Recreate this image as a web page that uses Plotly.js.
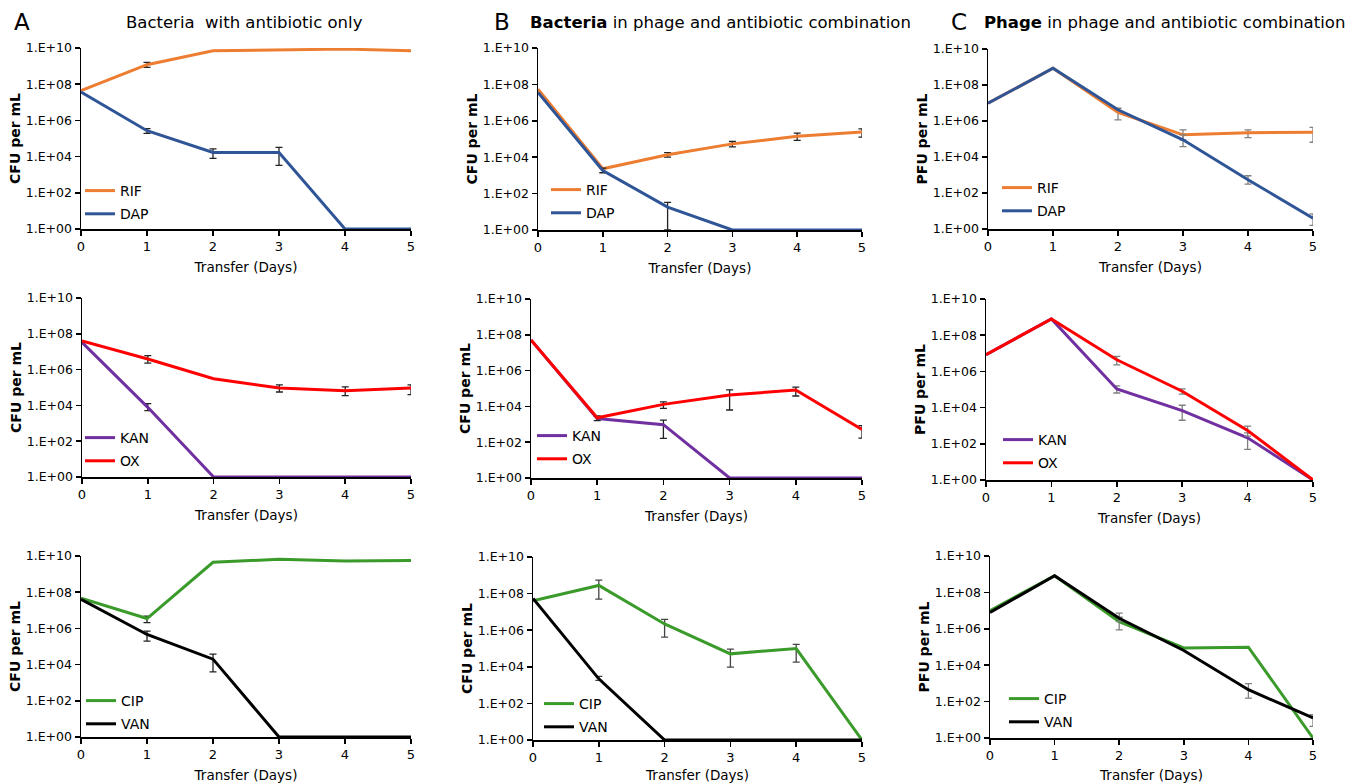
<!DOCTYPE html>
<html><head><meta charset="utf-8">
<script src="https://cdn.plot.ly/plotly-3.0.1.min.js"></script>
<style>html,body{margin:0;padding:0;background:#fff}#chart{width:1360px;height:783px}</style>
</head><body><div id="chart"></div>
<script>
const days = [0,1,2,3,4,5];
const tickVals = [1,1e2,1e4,1e6,1e8,1e10];
const tickText = ['1.E+00','1.E+02','1.E+04','1.E+06','1.E+08','1.E+10'];
const dayTicks = ['0','1','2','3','4','5'];
const xTitle = 'Transfer (Days)';

// Column A: bacteria with antibiotic only
const A_RIF    = [4.4e7, 1.2e9, 7e9, 7.8e9, 8.7e9, 7e9];
const A_RIF_hi = [null, 1.6e9, null, null, null, null];
const A_RIF_lo = [null, 8.5e8, null, null, null, null];
const A_DAP    = [3.7e7, 2.7e5, 1.7e4, 1.7e4, 1, 1];
const A_DAP_hi = [null, 3.5e5, 2.7e4, 3.2e4, null, null];
const A_DAP_lo = [null, 1.9e5, 8e3, 3.3e3, null, null];
const A_KAN    = [3.3e7, 7.8e3, 1, 1, 1, 1];
const A_KAN_hi = [null, 1.26e4, null, null, null, null];
const A_KAN_lo = [null, 5.1e3, null, null, null, null];
const A_OX     = [4e7, 3.9e6, 3.1e5, 9.4e4, 6.6e4, 9.4e4];
const A_OX_hi  = [null, 6e6, null, 1.4e5, 1.07e5, 1.4e5];
const A_OX_lo  = [null, 2.3e6, null, 5.6e4, 3.5e4, 4e4];
const A_CIP    = [4.6e7, 3.5e6, 4.5e9, 6.6e9, 5.3e9, 5.7e9];
const A_CIP_hi = [null, 4.8e6, null, null, null, null];
const A_CIP_lo = [null, 2.1e6, null, null, null, null];
const A_VAN    = [4e7, 4.6e5, 2e4, 1, 1, 1];
const A_VAN_hi = [null, 7e5, 3.8e4, null, null, null];
const A_VAN_lo = [null, 2e5, 4e3, null, null, null];

// Column B: bacteria in phage and antibiotic combination
const B_RIF    = [5.5e7, 2.3e3, 1.35e4, 5.4e4, 1.4e5, 2.4e5];
const B_RIF_hi = [null, null, 1.8e4, 7.3e4, 2.1e5, 3.6e5];
const B_RIF_lo = [null, null, 1e4, 3.7e4, 8.3e4, 1.26e5];
const B_DAP    = [3.6e7, 1.85e3, 18, 1, 1, 1];
const B_DAP_hi = [null, 2.5e3, 33, null, null, null];
const B_DAP_lo = [null, 1.4e3, 1, null, null, null];
const B_KAN    = [5.1e7, 2.1e3, 950, 1, 1, 1];
const B_KAN_hi = [null, null, 1.7e3, null, null, null];
const B_KAN_lo = [null, null, 165, null, null, null];
const B_OX     = [5.1e7, 2.3e3, 1.3e4, 4.3e4, 8.2e4, 520];
const B_OX_hi  = [null, 2.9e3, 1.8e4, 8.3e4, 1.2e5, 840];
const B_OX_lo  = [null, 1.6e3, 7.8e3, 6.3e3, 3.8e4, 170];
const B_CIP    = [4.1e7, 2.8e8, 2.2e6, 5.1e4, 1e5, 1];
const B_CIP_hi = [null, 5.4e8, 3.9e6, 9.2e4, 1.7e5, null];
const B_CIP_lo = [null, 5e7, 4.2e5, 9.7e3, 1.8e4, null];
const B_VAN    = [5.4e7, 2.2e3, 1, 1, 1, 1];
const B_VAN_hi = [null, 3e3, null, null, null, null];
const B_VAN_lo = [null, 1.8e3, null, null, null, null];

// Column C: phage in phage and antibiotic combination
const C_RIF    = [9.7e6, 8.5e8, 3e6, 1.7e5, 2.2e5, 2.4e5];
const C_RIF_hi = [null, null, 5.1e6, 3.2e5, 3.2e5, 4.4e5];
const C_RIF_lo = [null, null, 1.15e6, 9e4, 1.2e5, 6.6e4];
const C_DAP    = [9.7e6, 8.5e8, 4.2e6, 9e4, 550, 4];
const C_DAP_hi = [null, null, null, 1.7e5, 910, 7];
const C_DAP_lo = [null, null, null, 3.8e4, 315, 1.6];
const C_KAN    = [8.3e6, 7.9e8, 1.07e5, 6.8e3, 214, 1];
const C_KAN_hi = [null, null, 1.6e5, 1.35e4, 400, null];
const C_KAN_lo = [null, null, 6.4e4, 2e3, 49, null];
const C_OX     = [8.3e6, 7.9e8, 4.4e6, 8e4, 540, 1];
const C_OX_hi  = [null, null, 6.7e6, 1.07e5, 940, null];
const C_OX_lo  = [null, null, 2.3e6, 5.6e4, 265, null];
const C_CIP    = [1e7, 8.3e8, 2.5e6, 8.8e4, 9.8e4, 1];
const C_CIP_hi = [null, null, 4.3e6, null, null, null];
const C_CIP_lo = [null, null, 8.7e5, null, null, null];
const C_VAN    = [7.8e6, 8.3e8, 3.8e6, 6.4e4, 450, 12.6];
const C_VAN_hi = [null, null, 7.2e6, null, 960, 19];
const C_VAN_lo = [null, null, 2.5e6, null, 155, 4.4];

const COL = {RIF:'#ED7D31', DAP:'#2F5597', KAN:'#7030A0', OX:'#FF0000', CIP:'#3A9A2A', VAN:'#000000'};

const W = 1360, H = 783;
const FONT = 'DejaVu Sans, Arial, sans-serif';

const panels = [
  {box:[81,411,48,229],  unit:'CFU per mL', err:'#222', leg:[80,175],
   s:[['RIF',A_RIF,A_RIF_hi,A_RIF_lo],['DAP',A_DAP,A_DAP_hi,A_DAP_lo]]},
  {box:[538,862,48,230], unit:'CFU per mL', err:'#222', leg:[546,174],
   s:[['RIF',B_RIF,B_RIF_hi,B_RIF_lo],['DAP',B_DAP,B_DAP_hi,B_DAP_lo]]},
  {box:[988,1313,49,229],unit:'PFU per mL', err:'#808080', leg:[997,172],
   s:[['RIF',C_RIF,C_RIF_hi,C_RIF_lo],['DAP',C_DAP,C_DAP_hi,C_DAP_lo]]},
  {box:[82,411,298,477], unit:'CFU per mL', err:'#222', leg:[80,422],
   s:[['KAN',A_KAN,A_KAN_hi,A_KAN_lo],['OX',A_OX,A_OX_hi,A_OX_lo]]},
  {box:[531,862,299,478],unit:'CFU per mL', err:'#222', leg:[532,420],
   s:[['KAN',B_KAN,B_KAN_hi,B_KAN_lo],['OX',B_OX,B_OX_hi,B_OX_lo]]},
  {box:[986,1313,299,480],unit:'PFU per mL', err:'#808080', leg:[998,424],
   s:[['KAN',C_KAN,C_KAN_hi,C_KAN_lo],['OX',C_OX,C_OX_hi,C_OX_lo]]},
  {box:[81,411,556,737], unit:'CFU per mL', err:'#222', leg:[81,685],
   s:[['CIP',A_CIP,A_CIP_hi,A_CIP_lo],['VAN',A_VAN,A_VAN_hi,A_VAN_lo]]},
  {box:[533,862,557,740],unit:'CFU per mL', err:'#444', leg:[539,688],
   s:[['CIP',B_CIP,B_CIP_hi,B_CIP_lo],['VAN',B_VAN,B_VAN_hi,B_VAN_lo]]},
  {box:[990,1313,556,738],unit:'PFU per mL', err:'#808080', leg:[1004,683],
   s:[['CIP',C_CIP,C_CIP_hi,C_CIP_lo],['VAN',C_VAN,C_VAN_hi,C_VAN_lo]]}
];

const traces = [];
const layout = {
  width: W, height: H, margin:{l:0,r:0,t:0,b:0},
  paper_bgcolor:'#fff', plot_bgcolor:'rgba(0,0,0,0)',
  font:{family:FONT, color:'#000', size:13},
  annotations:[], showlegend:true
};

panels.forEach((p,i)=>{
  const k = i+1;
  const xa = 'xaxis'+(k===1?'':k), ya = 'yaxis'+(k===1?'':k);
  const xr = 'x'+(k===1?'':k), yr = 'y'+(k===1?'':k);
  const lg = 'legend'+(k===1?'':k);
  layout[xa] = {
    domain:[p.box[0]/W, p.box[1]/W], anchor:yr, range:[0,5],
    tickvals:days, ticktext:dayTicks, ticks:'outside', ticklen:5, tickwidth:1.5, tickcolor:'#000',
    showline:true, linecolor:'#000', linewidth:1.5, showgrid:false, zeroline:false,
    layer:'below traces', tickfont:{size:13, family:FONT},
    title:{text:xTitle, font:{size:13.5, family:FONT}, standoff:9}
  };
  layout[ya] = {
    domain:[1-p.box[3]/H, 1-p.box[2]/H], anchor:xr, type:'log', range:[0,10],
    tickvals:tickVals, ticktext:tickText, ticks:'outside', ticklen:5, tickwidth:1.5, tickcolor:'#000',
    showline:true, linecolor:'#000', linewidth:1.5, showgrid:false, zeroline:false,
    layer:'below traces', tickfont:{size:12.5, family:FONT},
    title:{text:'<b>'+p.unit+'</b>', font:{size:14, family:FONT}, standoff:2}
  };
  layout[lg] = {
    x:p.leg[0]/W, y:1-p.leg[1]/H, xanchor:'left', yanchor:'top',
    bgcolor:'rgba(0,0,0,0)', borderwidth:0, font:{size:14, family:FONT},
    tracegroupgap:2, itemwidth:30
  };
  p.s.forEach(([name, y, hi, lo])=>{
    const up = y.map((v,j)=> hi[j]==null ? NaN : hi[j]-v);
    const dn = y.map((v,j)=> lo[j]==null ? NaN : v-lo[j]);
    traces.push({
      type:'scatter', mode:'lines', x:days, y:y, name:name,
      xaxis:xr, yaxis:yr, legend:lg, legendgroup:lg+name,
      line:{color:COL[name], width:3}, cliponaxis:false,
      error_y:{type:'data', symmetric:false, array:up, arrayminus:dn,
               color:p.err, thickness:1.3, width:3.5}
    });
  });
});

const ann = (x,y,text,size,xanchor)=>({xref:'paper',yref:'paper',x:x/W,y:1-y/H,text:text,showarrow:false,
  xanchor:xanchor||'center',yanchor:'middle',font:{size:size,family:FONT,color:'#000'}});
layout.annotations.push(ann(22,22,'A',23));
layout.annotations.push(ann(244,23,'Bacteria  with antibiotic only',16.5));
layout.annotations.push(ann(502,22,'B',23));
layout.annotations.push(ann(720,23,'<b>Bacteria</b> in phage and antibiotic combination',16.5));
layout.annotations.push(ann(959,22,'C',23));
layout.annotations.push(ann(1164,23,'<b>Phage</b> in phage and antibiotic combination',16.5));

Plotly.newPlot('chart', traces, layout, {displayModeBar:false, staticPlot:true});
</script></body></html>
